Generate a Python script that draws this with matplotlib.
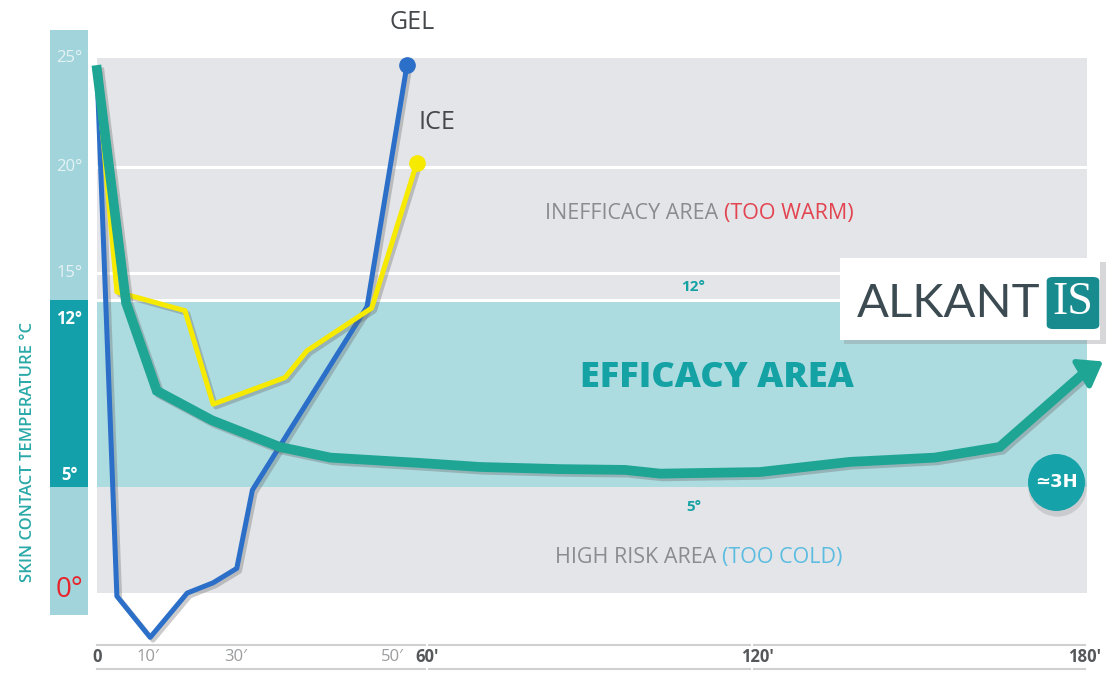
import matplotlib
matplotlib.use("Agg")
import matplotlib.pyplot as plt
import numpy as np
from matplotlib import patheffects as pe
from matplotlib.patches import Rectangle, FancyBboxPatch

# Data: time in minutes, skin contact temperature in degrees C
gel_minutes = [0, 3.9, 10.5, 18.9, 24.8, 30.1, 32.1, 46.8, 54.3]
gel_temp = [24.4, -0.3, -2.3, -0.15, 0.35, 1.05, 4.85, 11.75, 24.7]

ice_minutes = [0, 3.9, 18.4, 24.8, 36.3, 39.1, 47.4, 57.1]
ice_temp = [24.4, 12.9, 11.6, 8.1, 9.1, 10.1, 11.7, 20.2]

alk_minutes = [0, 5.7, 12.0, 24.5, 35.6, 42.1, 58.0, 69.6, 84.2, 96.0, 102.4,
               120.5, 137.0, 152.5, 164.4, 180.0, 183.3]
alk_temp = [24.45, 11.9, 8.6, 7.5, 6.5, 6.1, 5.9, 5.75, 5.67, 5.64, 5.5,
            5.56, 5.94, 6.1, 6.5, 9.3, 9.7]

x_ticks = [0, 10, 30, 50, 60, 120, 180]
x_labels = ["0", "10\u2032", "30\u2032", "50\u2032", "60\u2032", "120\u2032", "180\u2032"]
x_bold = [True, False, False, False, True, True, True]

y_ticks = [25, 20, 15, 12, 5, 0]
efficacy_low, efficacy_high = 5, 12

# the infographic's axes are not linear: piecewise maps (value -> pixel)
XM = [-40, 0, 10, 30, 50, 60, 120, 180, 240]
XP = [-107, 97, 148, 236, 392, 427, 757, 1085, 1413]
YD = [-20, 0, 5, 12, 15, 20, 25, 50]
YP = [-322, 90, 193, 380, 407, 513, 622, 1167]


def fx(v):
    return np.interp(v, XM, XP)


def ix(p):
    return np.interp(p, XP, XM)


def fy(v):
    return np.interp(v, YD, YP)


def iy(p):
    return np.interp(p, YP, YD)


GREY_BAND = "#e4e5e8"
EFF_BAND = "#acdbe0"
BAR_LIGHT = "#a2d4dc"
BAR_DARK = "#14a0aa"
GREEN = "#1ea594"
BLUE = "#2b6fc8"
YELLOW = "#f6ea00"
TEAL_TEXT = "#14a2a4"
GREY_TEXT = "#8a8c90"

fig = plt.figure(figsize=(11.07, 6.8), dpi=100)
ax = fig.add_axes([0, 0, 1, 1])
ax.set_xscale("function", functions=(fx, ix))
ax.set_yscale("function", functions=(fy, iy))
ax.set_xlim(ix(0), ix(1107))
ax.set_ylim(iy(0), iy(680))
ax.axis("off")

# background bands
ax.fill_between([0, 180.3], -0.15, 25, color=GREY_BAND, lw=0, zorder=0)
ax.fill_between([0, 180.3], efficacy_low, efficacy_high, color=EFF_BAND, lw=0, zorder=1)
for t in [20, 15, 12]:
    ax.plot([0, 180.3], [t, t], color="white", lw=2.2, zorder=1.5)

# left temperature bar
ax.fill_between([-9.2, -1.8], -1.2, 26.3, color=BAR_LIGHT, lw=0, zorder=1)
ax.fill_between([-9.2, -1.8], efficacy_low, efficacy_high, color=BAR_DARK, lw=0, zorder=1.2)
tick_y = {25: 25, 20: 20, 15: 15, 12: 11.3, 5: 5.45, 0: 0}
for t in y_ticks:
    if t == 0:
        ax.text(-5.4, tick_y[t], "0\u00b0", color="#e8232b", fontsize=20,
                ha="center", va="center", family="Open Sans", zorder=3)
    elif t in (12, 5):
        ax.text(-5.4, tick_y[t], f"{t}\u00b0", color="white", fontsize=12,
                fontweight="bold", ha="center", va="center", family="Open Sans", zorder=3)
    else:
        ax.text(-5.4, tick_y[t], f"{t}\u00b0", color="#e6f3f5", fontsize=12,
                ha="center", va="center", family="Open Sans", zorder=3)

ax.text(-13.6, 6.3, "SKIN CONTACT TEMPERATURE \u00b0C", rotation=90, color="#2aa8a8",
        fontsize=12, fontweight="semibold", ha="center", va="center",
        family="Open Sans")

# bottom time axis
for a, b in [(0, 59.5), (60.3, 118.8), (119.5, 180)]:
    ax.plot([a, b], [-2.67, -2.67], color="#cfd0d2", lw=1.5, zorder=1)
    ax.plot([a, b], [-3.85, -3.85], color="#cfd0d2", lw=1.5, zorder=1)
for t, lab, bold in zip(x_ticks, x_labels, x_bold):
    ax.text(t, -3.27, lab, ha="center", va="center", fontsize=12,
            color="#555759" if bold else "#9a9c9e",
            fontweight="bold" if bold else "normal", family="Open Sans")

# area labels
t1 = ax.text(81.5, 17.8, "INEFFICACY AREA ", color=GREY_TEXT, fontsize=15.5,
             family="Open Sans", va="center", ha="left")
ax.annotate("(TOO WARM)", xy=(1, 0), xycoords=t1, va="bottom", ha="left",
            color="#e24450", fontsize=15.5, family="Open Sans")
t2 = ax.text(83.3, 1.6, "HIGH RISK AREA ", color=GREY_TEXT, fontsize=15.5,
             family="Open Sans", va="center", ha="left")
ax.annotate("(TOO COLD)", xy=(1, 0), xycoords=t2, va="bottom", ha="left",
            color="#5cbde0", fontsize=15.5, family="Open Sans")
ax.text(108.3, 13.45, "12\u00b0", color=TEAL_TEXT, fontsize=11, fontweight="bold",
        ha="center", va="center", family="Open Sans")
ax.text(108.5, 4.05, "5\u00b0", color=TEAL_TEXT, fontsize=11, fontweight="bold",
        ha="center", va="center", family="Open Sans")
ax.text(112.7, 9.08, "EFFICACY AREA", color=TEAL_TEXT, fontsize=26, fontweight="heavy",
        ha="center", va="center", family="Open Sans", zorder=2)

shadow = [pe.SimpleLineShadow(offset=(2, -2), shadow_color="#6b6b6b", alpha=0.35), pe.Normal()]

# curves
ax.plot(gel_minutes, gel_temp, color=BLUE, lw=3.6, zorder=3, path_effects=shadow)
ax.plot(gel_minutes[-1], gel_temp[-1], "o", color=BLUE, ms=11, zorder=3.1)
ax.plot(ice_minutes, ice_temp, color=YELLOW, lw=3.6, zorder=4, path_effects=shadow)
ax.plot(ice_minutes[-1], ice_temp[-1], "o", color=YELLOW, ms=11, zorder=4.1)
ax.plot(alk_minutes[:-1], alk_temp[:-1], color=GREEN, lw=7, zorder=5,
        solid_joinstyle="miter", path_effects=shadow)
ax.annotate("", xy=(alk_minutes[-1], alk_temp[-1]), xytext=(alk_minutes[-2], alk_temp[-2]),
            arrowprops=dict(arrowstyle="-|>,head_length=0.7,head_width=0.5", color=GREEN,
                            lw=4, mutation_scale=20, shrinkA=0, shrinkB=0), zorder=5)

ax.text(55.7, 26.65, "GEL", fontsize=18, color="#45484b", ha="center", va="center",
        family="Open Sans")
ax.text(61.8, 22.06, "ICE", fontsize=18, color="#45484b", ha="center", va="center",
        family="Open Sans")

# duration badge
ax.plot(174.9, 5.0, "o", ms=42, color="#8d8f92", alpha=0.3, mew=0, zorder=5.9,
        transform=ax.transData)
ax.plot(174.7, 5.2, "o", ms=41, color="#15a2a8", mew=0, zorder=6)
ax.text(174.7, 5.2, "\u22433H", color="white", fontsize=13, fontweight="bold",
        ha="center", va="center", family="DejaVu Sans", zorder=7)

# logo box
W, H = 1107.0, 680.0
fig.patches.append(Rectangle((844 / W, 1 - 344 / H), 262 / W, 82 / H, transform=fig.transFigure,
                             color="#8d8f92", alpha=0.35, lw=0, zorder=8))
fig.patches.append(Rectangle((840 / W, 1 - 340 / H), 260 / W, 82 / H, transform=fig.transFigure,
                             color="white", lw=0, zorder=9))
fig.text(857 / W, 1 - 317 / H, "ALKANT", fontsize=34, color="#3c4a52", fontweight="normal",
         family="Lato", ha="left", va="baseline", zorder=10)
fig.patches.append(FancyBboxPatch((1050 / W, 1 - 327 / H), 46 / W, 48 / H,
                                  boxstyle="round,pad=0.003,rounding_size=0.006",
                                  transform=fig.transFigure, color="#178b8e", lw=0, zorder=10))
fig.text(1073 / W, 1 - 303 / H, "IS", fontsize=33, color="white", family="Liberation Serif",
         ha="center", va="center", zorder=11)

fig.savefig("out.png", dpi=100)
